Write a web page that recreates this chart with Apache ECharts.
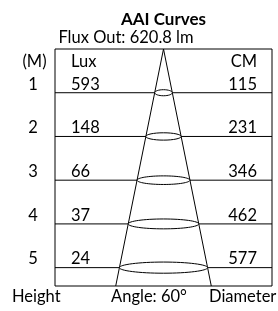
<!DOCTYPE html>
<html>
<head>
<meta charset="utf-8">
<style>html,body{margin:0;padding:0;background:#fff;}#c{width:278px;height:311px;}</style>
<script src="https://cdn.jsdelivr.net/npm/echarts@6/dist/echarts.min.js"></script>
</head>
<body>
<div id="c"></div>
<script>
const heights = [1, 2, 3, 4, 5];
const luxValues = [593, 148, 66, 37, 24];
const diameters = [115, 231, 346, 462, 577];
const beamAngle = 60;
const fluxOut = 620.8;
const hMax = 5.42;     // depth of the drawing box in metres
const xHalf = 710;     // half width of the drawing box in cm

const FONT = 'Lato';
const FS = '16.5px ';
const chart = echarts.init(document.getElementById('c'), null, {renderer: 'canvas'});

// cone edge: radius (cm) per metre of height, from the data
const radiusPerM = diameters[diameters.length - 1] / 2 / heights[heights.length - 1];
const coneData = [[-radiusPerM * hMax, hMax], [0, 0], [radiusPerM * hMax, hMax]];
const rows = heights.map((h, i) => [h, diameters[i], luxValues[i]]);

function txt(t, x, y, align, font) {
  return {type: 'text', x: x, y: y, style: {text: t, font: font || (FS + FONT), fill: '#000', align: align, verticalAlign: 'middle'}};
}

chart.setOption({
  animation: false,
  backgroundColor: '#fff',
  grid: {left: 55, right: 6, top: 49, bottom: 25, show: true, borderColor: '#000', borderWidth: 1, backgroundColor: 'transparent'},
  xAxis: {type: 'value', min: -xHalf, max: xHalf, show: false},
  yAxis: {type: 'value', min: 0, max: hMax, inverse: true, show: false},
  graphic: [
    txt('AAI Curves', 163.5, 20, 'center', 'bold 17px ' + FONT),
    txt('Flux Out: ' + fluxOut + ' lm', 126, 37.5, 'center'),
    txt('(M)', 34.5, 62, 'center'),
    txt('Lux', 71, 62, 'left'),
    txt('CM', 257, 62, 'right'),
    txt('Height', 12, 297, 'left'),
    txt('Angle: ' + beamAngle + '°', 149, 297, 'center'),
    txt('Diameter', 209, 297, 'left')
  ],
  series: [
    {
      type: 'line', data: coneData, symbol: 'none', silent: true,
      lineStyle: {color: '#000', width: 1}, z: 3
    },
    {
      type: 'custom', data: rows, silent: true, z: 4,
      renderItem: function (params, api) {
        const h = api.value(0), d = api.value(1), lx = api.value(2);
        const pl = api.coord([-xHalf, h]);
        const pr = api.coord([xHalf, h]);
        const c = api.coord([0, h]);
        const e = api.coord([d / 2, h]);
        const rx = e[0] - c[0];
        const ry = 2.4 + rx * 0.072;
        const ty = c[1] - 8.5;
        return {
          type: 'group',
          children: [
            {type: 'line', shape: {x1: pl[0], y1: c[1], x2: pr[0], y2: c[1]}, style: {stroke: '#000', lineWidth: 1}},
            {type: 'ellipse', shape: {cx: c[0], cy: c[1], rx: rx, ry: ry}, style: {stroke: '#000', fill: '#fff', lineWidth: 1}},
            txt(String(h), pl[0] - 22, ty, 'center'),
            txt(String(lx), pl[0] + 16, ty, 'left'),
            txt(String(d), pr[0] - 15, ty, 'right')
          ]
        };
      }
    }
  ]
});
</script>
</body>
</html>
